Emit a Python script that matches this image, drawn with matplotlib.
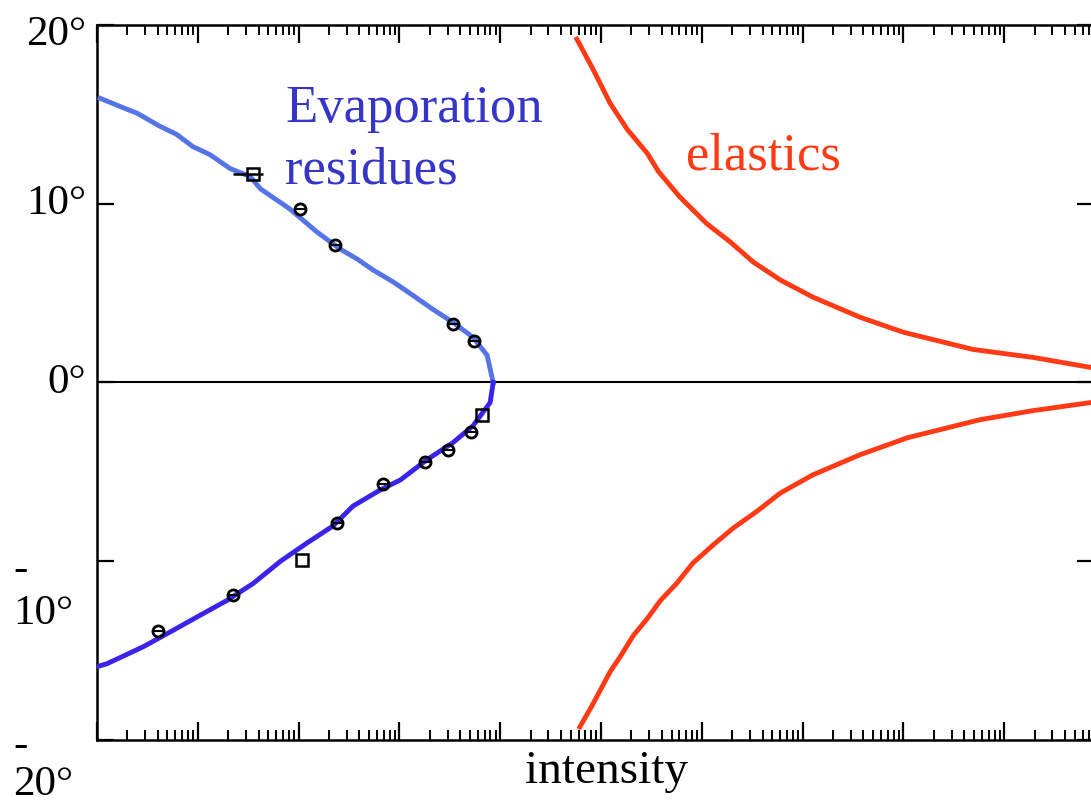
import numpy as np
import matplotlib
matplotlib.use("Agg")
import matplotlib.pyplot as plt
from matplotlib.ticker import LogLocator, NullFormatter

plt.rcParams['font.family'] = ['Liberation Serif', 'DejaVu Serif']

# evaporation residues (log10 intensity vs angle), upper and lower branch
er_up_ang = [15.9, 15.28, 15.06, 14.33, 13.88, 13.2, 12.75, 11.97, 11.52, 10.84,
             9.72, 8.43, 7.47, 6.91, 6.29, 5.62, 4.89, 4.10, 3.37, 2.53, 1.52, 0.0]
er_up_log = [0.03, 0.30, 0.40, 0.625, 0.79, 0.95, 1.12, 1.32, 1.52, 1.62,
             1.91, 2.18, 2.41, 2.58, 2.74, 2.94, 3.13, 3.33, 3.53, 3.73, 3.87, 3.93]
er_lo_ang = [0.0, -1.12, -2.42, -3.37, -4.33, -5.45, -6.01, -6.91, -8.03, -8.99,
             -10.0, -11.24, -12.19, -13.03, -13.88, -14.78, -15.73, -15.9]
er_lo_log = [3.93, 3.90, 3.73, 3.53, 3.27, 3.01, 2.81, 2.54, 2.34, 2.08,
             1.82, 1.55, 1.29, 1.02, 0.75, 0.46, 0.10, 0.0]

# measured points
pt_ang = [9.72, 7.70, 3.26, 2.30, -2.75, -3.76, -4.44, -5.67, -7.87, -11.91, -13.93]
pt_log = [2.01, 2.36, 3.53, 3.74, 3.71, 3.48, 3.25, 2.84, 2.38, 1.35, 0.61]
sq_ang = [11.69, -1.80, -9.94]
sq_log = [1.55, 3.82, 2.03]

# elastics
el_up_ang = [19.21, 17.53, 15.62, 14.16, 12.81, 11.80, 10.39, 8.88, 7.87, 6.74,
             5.73, 4.78, 3.65, 2.81, 1.85, 1.40, 0.84]
el_up_log = [4.76, 4.92, 5.09, 5.26, 5.46, 5.57, 5.78, 6.05, 6.28, 6.51,
             6.78, 7.10, 7.57, 8.00, 8.69, 9.29, 9.86]
el_lo_ang = [-19.27, -17.98, -16.18, -15.34, -14.16, -13.20, -12.19, -11.24, -10.11,
             -9.10, -8.15, -7.19, -6.18, -5.17, -4.04, -3.09, -2.08, -1.57, -1.12]
el_lo_log = [4.79, 4.92, 5.09, 5.19, 5.32, 5.46, 5.59, 5.75, 5.91,
             6.11, 6.31, 6.55, 6.78, 7.10, 7.57, 8.04, 8.76, 9.29, 9.86]

W, H = 1091, 805
fig = plt.figure(figsize=(W / 100, H / 100), dpi=100)
ax = fig.add_axes([97 / W, 1 - 740 / H, 1 + 3 / W - 97 / W, 715 / H])

ax.set_xscale('log')
ax.set_xlim(1, 10 ** 9.89)
ax.set_ylim(-20, 20)

p10 = lambda v: 10 ** np.array(v)

ax.axhline(0, color='black', lw=1.5, zorder=1)
ax.plot(p10(er_up_log), er_up_ang, color='#5574e6', lw=3.5, zorder=3)
ax.plot(p10(er_lo_log), er_lo_ang, color='#3a24ea', lw=3.5, zorder=3)
ax.plot(p10(el_up_log), el_up_ang, color='#ff3a14', lw=3.5, zorder=3)
ax.plot(p10(el_lo_log), el_lo_ang, color='#ff3a14', lw=3.5, zorder=3)

ax.plot(p10(pt_log), pt_ang, 'o', ms=8, mfc='none', mec='black', mew=2, zorder=4)
ax.plot(p10(pt_log), pt_ang, '_', ms=8, mec='black', mew=1.5, zorder=4)
ax.plot(p10(sq_log), sq_ang, 's', ms=8, mfc='none', mec='black', mew=1.8, zorder=4)
ax.errorbar(p10(sq_log[:1]), sq_ang[:1],
            xerr=[[10 ** 1.55 - 10 ** 1.35], [10 ** 1.65 - 10 ** 1.55]],
            fmt='none', ecolor='black', elinewidth=1.8, capsize=0, zorder=4)

fpx = ('figure pixels', 'figure fraction')
ax.annotate('Evaporation', xy=(285, 1 - 122 / H), xycoords=fpx,
            color='#3535c8', fontsize=38, va='baseline', ha='left')
ax.annotate('residues', xy=(285, 1 - 183 / H), xycoords=fpx,
            color='#3535c8', fontsize=38, va='baseline', ha='left')
ax.annotate('elastics', xy=(686, 1 - 170 / H), xycoords=fpx,
            color='#ff3a14', fontsize=38, va='baseline', ha='left')

# x ticks: log, both sides, no labels
ax.xaxis.set_major_locator(LogLocator(base=10, numticks=20))
ax.xaxis.set_minor_locator(LogLocator(base=10, subs=np.arange(2, 10), numticks=200))
ax.xaxis.set_major_formatter(NullFormatter())
ax.xaxis.set_minor_formatter(NullFormatter())
ax.tick_params(axis='x', which='major', direction='in', top=True, bottom=True,
               length=13, width=1.6)
ax.tick_params(axis='x', which='minor', direction='in', top=True, bottom=True,
               length=7, width=1.4)

ax.set_yticks([-20, -10, 0, 10, 20])
ax.set_yticklabels([])
ax.tick_params(axis='y', which='major', direction='in', left=True, right=True,
               length=12, width=1.6)

for s in ['left', 'top', 'bottom']:
    ax.spines[s].set_linewidth(1.8)
ax.spines['right'].set_visible(False)

# y labels, drawn like the original (negative sign on its own line)
lab = dict(xycoords=('figure pixels', 'data'), textcoords='offset pixels',
           fontsize=31, annotation_clip=False)
ax.annotate('20°', xy=(86, 20), xytext=(0, -10), ha='right', va='center', **lab)
ax.annotate('10°', xy=(86, 10), xytext=(0, 0), ha='right', va='center', **lab)
ax.annotate('0°', xy=(86, 0), xytext=(0, 0), ha='right', va='center', **lab)
ax.annotate('-', xy=(13, -10), xytext=(0, -8), ha='left', va='center', **lab)
ax.annotate('10°', xy=(13, -10), xytext=(0, -52), ha='left', va='center', **lab)
ax.annotate('-', xy=(13, -20), xytext=(0, -6), ha='left', va='center', **lab)
ax.annotate('20°', xy=(13, -20), xytext=(0, -45), ha='left', va='center', **lab)

ax.annotate('intensity', xy=(607, 1 - 772 / H), xycoords=fpx,
            fontsize=34, ha='center', va='center', annotation_clip=False)

fig.savefig('out.png', dpi=100)
